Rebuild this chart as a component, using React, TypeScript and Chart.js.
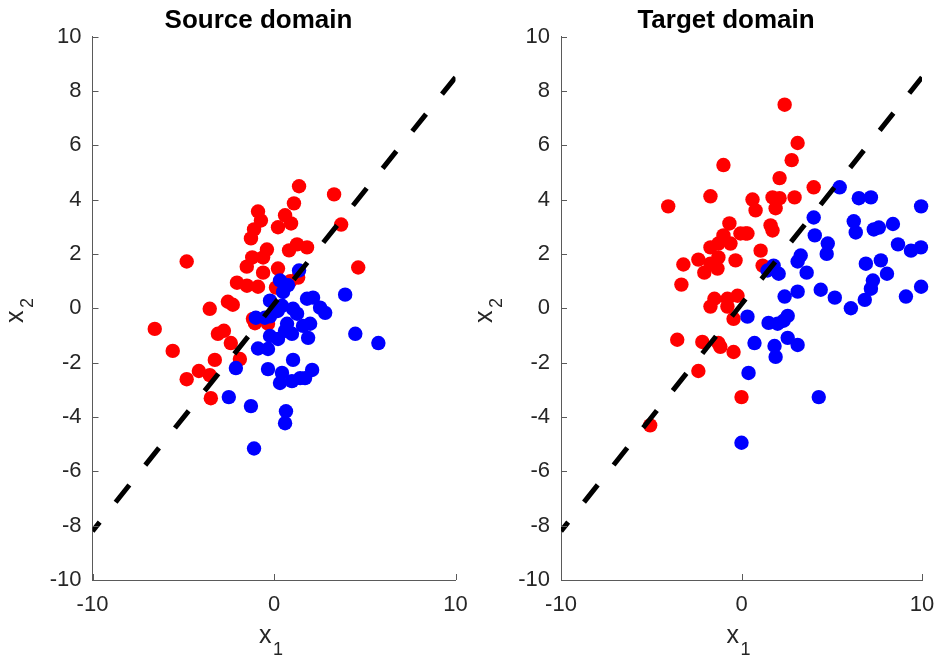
import React, { useEffect, useRef } from "react";
import { Chart, registerables } from "chart.js";

Chart.register(...registerables);

type Pt = [number, number];

// Class 1 (red) and class 2 (blue) samples in the source domain
const sourceRed: Pt[] = [
  [-6.57, -0.76], [-5.58, -1.57], [-4.81, 1.72], [-4.81, -2.61], [-4.14, -2.31],
  [-3.54, -2.46], [-3.54, -0.02], [-3.48, -3.31], [-3.26, -1.9], [-3.09, -0.94],
  [-2.76, -0.83], [-2.54, 0.24], [-2.27, 0.13], [-2.38, -1.28], [-1.88, -1.87],
  [-2.04, 0.94], [-1.49, 0.83], [-0.88, 0.79], [-1.16, -0.39], [-1.5, 1.53],
  [-1.2, 1.87], [-0.6, 1.87], [-0.6, 1.31], [-1.27, 2.57], [-1.1, 2.9],
  [-0.88, 3.56], [-0.72, 3.23], [-0.39, 2.16], [0.22, 2.98], [0.61, 3.42],
  [0.94, 3.12], [1.1, 3.86], [1.38, 4.49], [3.31, 4.19], [3.7, 3.08],
  [1.27, 2.35], [1.82, 2.24], [0.83, 2.13], [0.22, 1.46], [4.64, 1.5],
  [0.11, 0.76], [1.33, 1.13], [-1.05, -0.55], [-0.33, -0.57], [0.9, 1.0],
];

const sourceBlue: Pt[] = [
  [-1.0, -0.35], [-0.5, -0.35], [-0.22, 0.28], [0.44, 0.09], [1.82, 0.35],
  [2.15, 0.39], [2.54, 0.02], [2.82, -0.17], [3.92, 0.5], [1.05, -0.02],
  [1.27, -0.2], [0.72, -0.57], [0.61, -0.83], [1.6, -0.65], [1.99, -0.57],
  [1.88, -1.09], [0.99, -0.94], [0.22, -1.13], [-0.22, -1.02], [4.48, -0.94],
  [5.75, -1.28], [-0.88, -1.48], [-0.33, -1.5], [-2.1, -2.2], [1.05, -1.9],
  [-0.33, -2.24], [0.44, -2.38], [0.33, -2.75], [0.99, -2.68], [1.44, -2.57],
  [1.71, -2.57], [2.1, -2.27], [-2.49, -3.27], [-1.27, -3.6], [0.66, -3.79],
  [0.61, -4.23], [-1.1, -5.16], [1.38, 1.39], [0.33, 1.02], [0.77, 0.85],
  [0.5, 0.6], [-0.22, -0.3], [0.2, -0.1],
];

// Class 1 (red) and class 2 (blue) samples in the target domain
const targetRed: Pt[] = [
  [-5.06, -4.31], [-4.06, 3.75], [-3.56, -1.16], [-3.33, 0.87], [-3.22, 1.61],
  [-2.39, 1.79], [-2.39, -2.31], [-2.17, -1.24], [-2.06, 1.31], [-1.72, 2.24],
  [-1.72, 1.64], [-1.72, 0.06], [-1.72, 4.12], [-1.5, 0.35], [-1.33, 1.46],
  [-1.28, 1.87], [-1.28, 2.38], [-1.28, -1.28], [-1.17, -1.42], [-1.0, 2.68],
  [-1.0, 5.27], [-0.78, 0.35], [-0.78, 0.06], [-0.67, 3.12], [-0.61, 2.38],
  [-0.44, -0.39], [-0.44, -1.61], [-0.33, 1.76], [-0.22, 0.46], [-0.06, 2.75],
  [0.0, -3.27], [0.22, 2.75], [0.33, 2.75], [0.61, 4.0], [0.78, 3.6],
  [1.06, 2.12], [1.17, 1.57], [1.61, 3.05], [1.72, 2.86], [1.72, 4.08],
  [1.89, 3.68], [2.11, 4.05], [2.11, 4.79], [2.39, 7.49], [2.78, 5.45],
  [2.94, 4.08], [3.11, 6.08], [4.0, 4.45],
];

const targetBlue: Pt[] = [
  [5.44, 4.45], [6.5, 4.05], [7.17, 4.08], [9.95, 3.75], [4.0, 3.34],
  [6.22, 3.2], [6.33, 2.79], [7.33, 2.9], [7.61, 2.97], [8.39, 3.1],
  [4.06, 2.68], [4.78, 2.38], [4.72, 2.0], [8.67, 2.35], [9.39, 2.12],
  [9.94, 2.24], [3.28, 1.94], [3.11, 1.72], [1.78, 1.57], [2.06, 1.27],
  [1.44, 1.39], [3.61, 1.31], [6.89, 1.64], [7.72, 1.76], [8.06, 1.27],
  [7.28, 1.02], [7.17, 0.72], [6.83, 0.31], [6.06, 0.0], [5.17, 0.39],
  [4.39, 0.68], [3.11, 0.61], [2.39, 0.43], [9.11, 0.43], [9.95, 0.79],
  [0.33, -0.31], [1.5, -0.54], [2.0, -0.57], [2.33, -0.46], [2.56, -0.28],
  [2.56, -1.09], [3.11, -1.35], [1.83, -1.39], [1.89, -1.79], [0.72, -1.28],
  [0.39, -2.38], [4.28, -3.27], [0.0, -4.95],
];

// Decision boundary (same in both panels)
const boundaryX = [-10, 10];
const boundaryY = [-8.2, 8.5];

const xTickValues = [-10, 0, 10];
const yTickValues = [-10, -8, -6, -4, -2, 0, 2, 4, 6, 8, 10];

const FONT = '"Liberation Sans", Arial, Helvetica, sans-serif';
const TEXT = "#262626";
const AXIS = "#5a5a5a";

interface PanelProps {
  title: string;
  red: Pt[];
  blue: Pt[];
  axisWidth: number;
  padRight: number;
}

function Panel({ title, red, blue, axisWidth, padRight }: PanelProps) {
  const ref = useRef<HTMLCanvasElement | null>(null);

  useEffect(() => {
    if (!ref.current) return;

    const decorations = {
      id: "panelDecorations",
      afterDraw(chart: any) {
        const { ctx, chartArea: a, scales } = chart;
        const xs = scales.x;
        const ys = scales.y;
        ctx.save();
        // inward tick marks
        ctx.strokeStyle = AXIS;
        ctx.lineWidth = 1;
        ctx.beginPath();
        for (const v of xTickValues) {
          const px = Math.round(xs.getPixelForValue(v)) + 0.5;
          ctx.moveTo(px, a.bottom);
          ctx.lineTo(px, a.bottom - 6);
        }
        for (const v of yTickValues) {
          const py = Math.round(ys.getPixelForValue(v)) + 0.5;
          ctx.moveTo(a.left, py);
          ctx.lineTo(a.left + 6, py);
        }
        ctx.stroke();

        const cx = (a.left + a.right) / 2;
        // title
        ctx.fillStyle = "#000";
        ctx.font = `bold 26px ${FONT}`;
        ctx.textAlign = "center";
        ctx.textBaseline = "alphabetic";
        ctx.fillText(title, cx - 15.5, 28);

        // x-axis label: x with subscript 1
        ctx.fillStyle = TEXT;
        ctx.textAlign = "left";
        ctx.font = `25px ${FONT}`;
        ctx.fillText("x", cx - 15, 643);
        ctx.font = `18px ${FONT}`;
        ctx.fillText("1", cx - 1, 655);

        // y-axis label: x with subscript 2, rotated
        ctx.translate(a.left - 69.5, 323);
        ctx.rotate(-Math.PI / 2);
        ctx.font = `25px ${FONT}`;
        ctx.fillText("x", 0, 0);
        ctx.font = `18px ${FONT}`;
        ctx.fillText("2", 15, 10);
        ctx.restore();
      },
    };

    const toData = (pts: Pt[]) => pts.map(([x, y]) => ({ x, y }));

    const chart = new Chart(ref.current, {
      type: "scatter",
      data: {
        datasets: [
          {
            type: "line",
            data: boundaryX.map((x, i) => ({ x, y: boundaryY[i] })),
            borderColor: "#000",
            borderWidth: 5,
            borderDash: [22, 25.5],
            borderDashOffset: 10.5,
            borderCapStyle: "butt",
            pointRadius: 0,
            fill: false,
            order: 0,
          } as any,
          {
            data: toData(blue),
            backgroundColor: "#0000ff",
            borderColor: "#0000ff",
            borderWidth: 0,
            pointRadius: 7.2,
            pointHoverRadius: 7.2,
            clip: false,
            order: 1,
          },
          {
            data: toData(red),
            backgroundColor: "#ff0000",
            borderColor: "#ff0000",
            borderWidth: 0,
            pointRadius: 7.2,
            pointHoverRadius: 7.2,
            clip: false,
            order: 2,
          },
        ],
      },
      options: {
        animation: false,
        responsive: false,
        devicePixelRatio: 1,
        events: [],
        layout: { padding: { top: 36.5, right: padRight, left: 0, bottom: 0 } },
        plugins: {
          legend: { display: false },
          tooltip: { enabled: false },
          title: { display: false },
        },
        scales: {
          x: {
            type: "linear",
            min: -10,
            max: 10,
            afterFit: (s: any) => {
              s.height = 76;
              s.paddingLeft = 0;
              s.paddingRight = 0;
            },
            ticks: {
              stepSize: 10,
              padding: 12,
              color: TEXT,
              font: { family: FONT, size: 22 },
              maxRotation: 0,
            },
            grid: { display: false, drawTicks: false },
            border: { display: true, color: AXIS, width: 1 },
          },
          y: {
            type: "linear",
            min: -10,
            max: 10,
            afterFit: (s: any) => {
              s.width = axisWidth;
              s.paddingTop = 0;
              s.paddingBottom = 0;
            },
            ticks: {
              stepSize: 2,
              padding: 11,
              color: TEXT,
              font: { family: FONT, size: 22 },
            },
            grid: { display: false, drawTicks: false },
            border: { display: true, color: AXIS, width: 1 },
          },
        },
      },
      plugins: [decorations],
    });

    return () => chart.destroy();
  }, [title, red, blue, axisWidth, padRight]);

  return <canvas ref={ref} width={471} height={656} style={{ display: "block", width: 471, height: 656 }} />;
}

export default function App() {
  return (
    <div
      style={{
        position: "absolute",
        left: 0,
        top: 0,
        width: 942,
        height: 656,
        display: "flex",
        background: "#fff",
      }}
    >
      <Panel title="Source domain" red={sourceRed} blue={sourceBlue} axisWidth={92.5} padRight={15.5} />
      <Panel title="Target domain" red={targetRed} blue={targetBlue} axisWidth={90} padRight={20} />
    </div>
  );
}
